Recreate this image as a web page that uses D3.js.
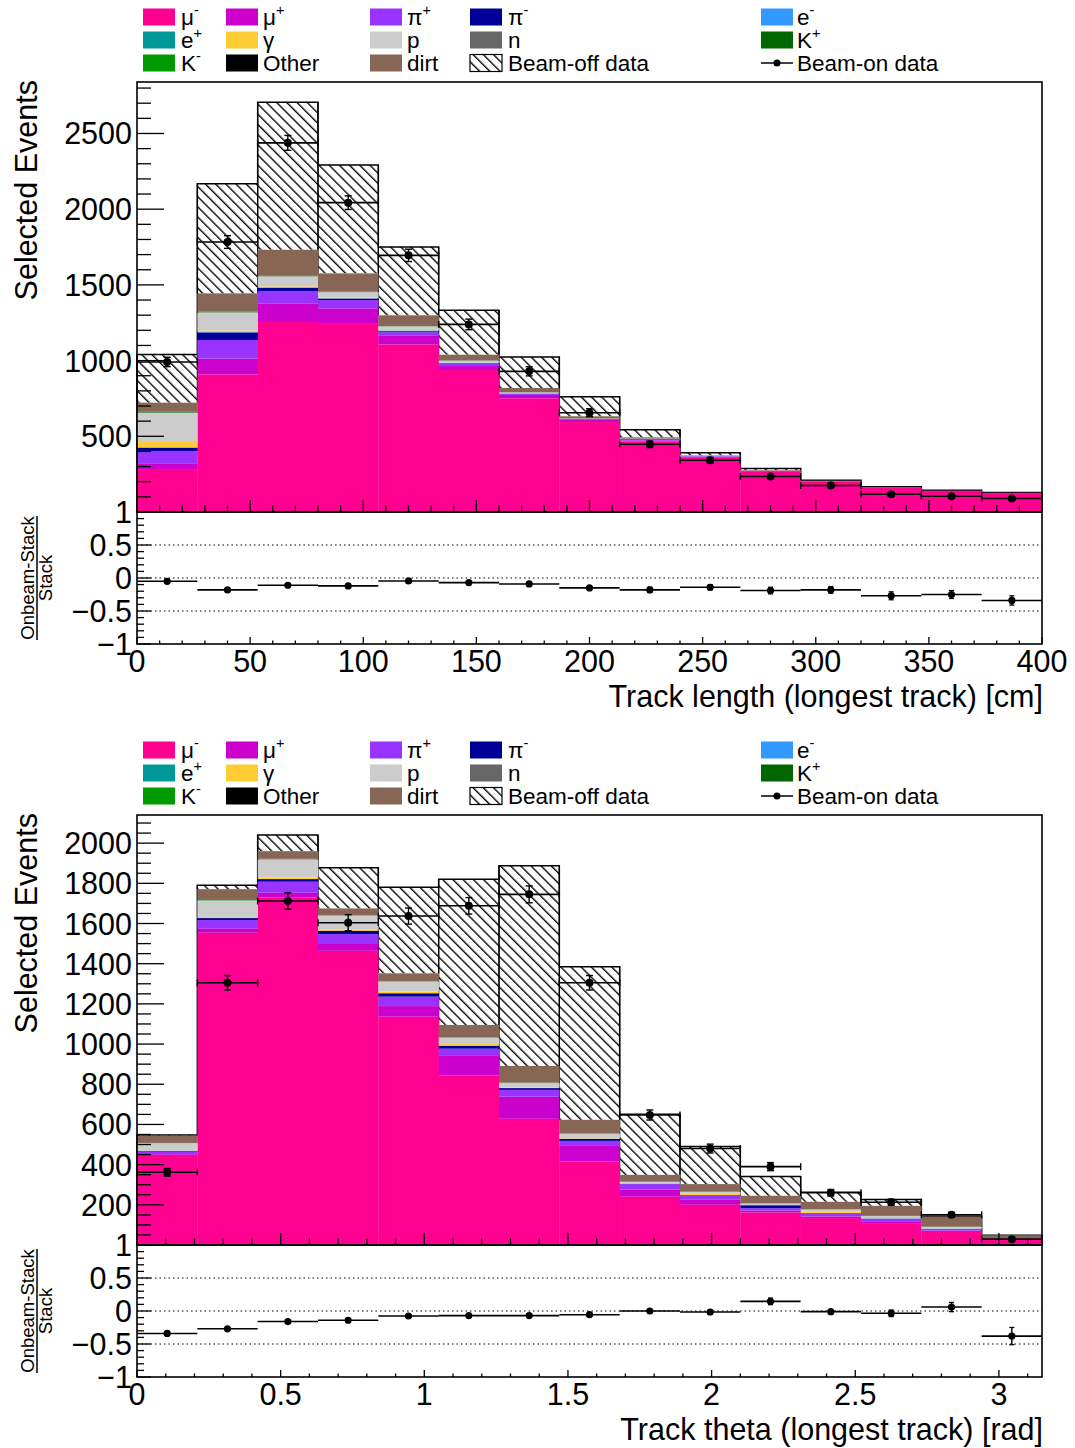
<!DOCTYPE html>
<html><head><meta charset="utf-8">
<script src="https://cdn.jsdelivr.net/npm/d3@7"></script>
<style>
body{margin:0;background:#fff}
svg{display:block}
text{font-family:"Liberation Sans",Arial,Helvetica,sans-serif;fill:#000}
</style>
</head><body>
<svg id="c" width="1075" height="1448"></svg>
<script>
// ---------- categories ----------
const componentNames = ["mu-","mu+","pi+","pi-","e-","e+","gamma","p","n","K+","K-","Other","dirt"];
const componentColors = ["#ff0090","#cc00cc","#9933ff","#000099","#3399ff","#009999","#ffcc33","#cccccc","#666666","#006600","#009900","#000000","#876655"];

// ---------- Track length (longest track) [cm] ----------
const lenEdgesMin = 0, lenEdgesMax = 400, lenBins = 15;
const len_muMinus = [278, 909, 1255, 1248, 1107, 938, 751, 594, 465, 362, 270, 203, 160, 140, 125];
const len_muPlus  = [44, 104, 123, 97, 60, 26, 22, 14, 8, 4, 2, 1, 1, 1, 1];
const len_piPlus  = [81, 123, 79, 55, 20, 14, 8, 5, 9, 3, 1, 1, 1, 0, 0];
const len_piMinus = [22, 50, 24, 10, 7, 4, 1, 1, 1, 0, 0, 0, 0, 0, 0];
const len_eMinus  = [2, 3, 3, 2, 5, 5, 2, 1, 1, 1, 0, 0, 0, 0, 0];
const len_ePlus   = [0, 0, 0, 0, 0, 0, 0, 0, 0, 0, 0, 0, 0, 0, 0];
const len_gamma   = [42, 10, 6, 4, 2, 1, 1, 0, 0, 0, 0, 0, 0, 0, 0];
const len_proton  = [185, 118, 66, 36, 25, 11, 6, 2, 1, 1, 1, 0, 0, 0, 0];
const len_neutron = [3, 2, 2, 1, 1, 1, 0, 0, 0, 0, 0, 0, 0, 0, 0];
const len_kPlus   = [1, 1, 1, 0, 0, 0, 0, 0, 0, 0, 0, 0, 0, 0, 0];
const len_kMinus  = [2, 2, 2, 1, 1, 1, 0, 0, 0, 0, 0, 0, 0, 0, 0];
const len_other   = [2, 1, 2, 1, 0, 1, 1, 0, 0, 0, 0, 0, 0, 0, 0];
const len_dirt    = [60, 121, 169, 121, 71, 37, 27, 15, 8, 3, 3, 2, 2, 1, 1];
const len_beamOff = [319, 724, 975, 715, 452, 293, 205, 130, 51, 18, 10, 3, 2, 2, 1];
const len_beamOn  = [991, 1783, 2438, 2043, 1695, 1239, 929, 656, 447, 342, 234, 175, 117, 104, 89];
const len_beamOnErr = [31, 42, 49, 45, 41, 35, 30, 26, 21, 18, 15, 13, 11, 10, 9];
const len_ratio   = [-0.05, -0.18, -0.11, -0.12, -0.045, -0.07, -0.09, -0.15, -0.18, -0.14, -0.19, -0.18, -0.27, -0.25, -0.34];
const len_ratioErr= [0.03, 0.02, 0.02, 0.02, 0.02, 0.03, 0.03, 0.03, 0.04, 0.04, 0.05, 0.05, 0.06, 0.06, 0.07];
const len_xTicks  = [0, 50, 100, 150, 200, 250, 300, 350, 400];
const len_yTicks  = [500, 1000, 1500, 2000, 2500];

// ---------- Track theta (longest track) [rad] ----------
const thEdgesMin = 0, thEdgesMax = 3.15, thBins = 15;
const th_muMinus = [448, 1554, 1730, 1464, 1136, 843, 628, 415, 240, 200, 162, 134, 109, 70, 33];
const th_muPlus  = [4, 22, 23, 34, 53, 98, 110, 78, 36, 25, 10, 8, 6, 2, 1];
const th_piPlus  = [13, 41, 55, 49, 47, 36, 34, 25, 27, 22, 11, 15, 15, 8, 0];
const th_piMinus = [3, 10, 13, 17, 17, 15, 9, 10, 2, 2, 15, 2, 2, 0, 0];
const th_eMinus  = [0, 0, 0, 0, 0, 0, 0, 0, 0, 0, 0, 0, 0, 2, 0];
const th_ePlus   = [0, 0, 0, 0, 0, 0, 0, 0, 0, 0, 0, 0, 0, 0, 0];
const th_gamma   = [0, 6, 8, 7, 8, 8, 2, 2, 3, 6, 1, 8, 0, 0, 0];
const th_proton  = [39, 82, 90, 69, 51, 32, 23, 24, 6, 9, 8, 10, 12, 8, 0];
const th_neutron = [0, 0, 0, 0, 0, 0, 0, 0, 0, 0, 0, 0, 0, 0, 0];
const th_kPlus   = [0, 0, 0, 0, 0, 0, 0, 0, 0, 0, 0, 0, 0, 0, 0];
const th_kMinus  = [1, 2, 3, 2, 2, 2, 2, 2, 2, 2, 1, 1, 1, 1, 0];
const th_other   = [0, 0, 0, 0, 0, 0, 0, 0, 0, 0, 0, 0, 0, 0, 0];
const th_dirt    = [36, 54, 38, 33, 38, 61, 83, 67, 33, 37, 37, 37, 50, 51, 15];
const th_beamOff = [4, 20, 81, 202, 428, 725, 996, 762, 302, 187, 96, 48, 31, 0, 0];
const th_beamOn  = [362, 1305, 1712, 1604, 1637, 1688, 1745, 1305, 647, 480, 390, 260, 213, 150, 29];
const th_beamOnErr = [19, 36, 41, 40, 40, 41, 42, 36, 25, 22, 20, 16, 15, 12, 6];
const th_ratio   = [-0.34, -0.27, -0.16, -0.14, -0.076, -0.07, -0.07, -0.056, 0.0, -0.015, 0.146, -0.01, -0.035, 0.06, -0.38];
const th_ratioErr= [0.03, 0.02, 0.02, 0.02, 0.02, 0.02, 0.02, 0.02, 0.02, 0.03, 0.05, 0.03, 0.05, 0.07, 0.13];
const th_xTicks  = [0, 0.5, 1, 1.5, 2, 2.5, 3];
const th_yTicks  = [200, 400, 600, 800, 1000, 1200, 1400, 1600, 1800, 2000];

const ratioTicks = [1, 0.5, 0, -0.5, -1];

// legend entries (row-major, 5 columns)
const legendEntries = [
  {b:"μ",s:"-",c:0},{b:"μ",s:"+",c:1},{b:"π",s:"+",c:2},{b:"π",s:"-",c:3},{b:"e",s:"-",c:4},
  {b:"e",s:"+",c:5},{b:"γ",s:"",c:6},{b:"p",s:"",c:7},{b:"n",s:"",c:8},{b:"K",s:"+",c:9},
  {b:"K",s:"-",c:10},{b:"Other",s:"",c:11},{b:"dirt",s:"",c:12},{b:"Beam-off data",s:"",c:"off"},{b:"Beam-on data",s:"",c:"on"}
];

const svg = d3.select("#c");
const defs = svg.append("defs");
const HS = 7.2;
const pat = defs.append("pattern").attr("id","hatch").attr("patternUnits","userSpaceOnUse")
  .attr("width",HS).attr("height",HS).attr("patternTransform","rotate(-45)");
pat.append("rect").attr("width",HS).attr("height",HS).attr("fill","#fff");
pat.append("line").attr("x1",0.7).attr("y1",-1).attr("x2",0.7).attr("y2",HS+1).attr("stroke","#000").attr("stroke-width",1.35);

const X0 = 137, X1 = 1042;
const FS = 30.5;

function drawLegend(yOff){
  const g = svg.append("g");
  const swX = [143, 226, 370, 470, 761], txX = [181, 263, 407, 508, 797];
  const rowY = [17, 40, 63];
  legendEntries.forEach((e,i)=>{
    const col = i%5, row = Math.floor(i/5);
    const cy = yOff + rowY[row];
    if (e.c === "off"){
      g.append("rect").attr("x",swX[col]).attr("y",cy-8.5).attr("width",32).attr("height",17)
        .attr("fill","url(#hatch)").attr("stroke","#000").attr("stroke-width",1.2);
    } else if (e.c === "on"){
      g.append("line").attr("x1",swX[col]).attr("x2",swX[col]+32).attr("y1",cy).attr("y2",cy).attr("stroke","#000").attr("stroke-width",1.5);
      g.append("circle").attr("cx",swX[col]+16).attr("cy",cy).attr("r",3.5).attr("fill","#000");
    } else {
      g.append("rect").attr("x",swX[col]).attr("y",cy-8.5).attr("width",32).attr("height",17)
        .attr("fill",componentColors[e.c]);
    }
    const t = g.append("text").attr("x",txX[col]).attr("y",cy+8).attr("font-size",22.5).text(e.b);
    if (e.s) t.append("tspan").attr("dy",-10).attr("font-size",14.5).text(e.s);
  });
}

function drawPanel(cfg){
  const top = cfg.top, mainBot = top + 430, ratBot = mainBot + 132;
  const x = d3.scaleLinear().domain([cfg.xmin, cfg.xmax]).range([X0, X1]);
  const y = d3.scaleLinear().domain([0, cfg.ymax]).range([mainBot, top]);
  const yr = d3.scaleLinear().domain([-1, 1]).range([ratBot, mainBot]);
  const bw = (cfg.xmax - cfg.xmin)/cfg.nbins;
  const lo = i => cfg.xmin + i*bw, hi = i => cfg.xmin + (i+1)*bw;
  const g = svg.append("g");

  drawLegend(top - 82);

  // cumulative stack
  const layers = cfg.layers;
  const n = cfg.nbins;
  const cum = [];
  let run = new Array(n).fill(0);
  layers.forEach(L => { const lower = run.slice(); run = run.map((v,i)=>v+L[i]); cum.push({lower, upper: run.slice()}); });
  const stackTop = run.slice();
  const total = stackTop.map((v,i)=>v+cfg.beamOff[i]);

  // beam-off hatched
  const bins = d3.range(n);
  g.selectAll(null).data(bins).join("rect")
    .attr("x", i=>x(lo(i))).attr("width", i=>x(hi(i))-x(lo(i)))
    .attr("y", i=>y(total[i])).attr("height", i=>Math.max(0, y(stackTop[i])-y(total[i])))
    .attr("fill","url(#hatch)");
  // outline of total (step)
  let p = d3.path();
  p.moveTo(x(lo(0)), y(0));
  bins.forEach(i=>{ p.lineTo(x(lo(i)), y(total[i])); p.lineTo(x(hi(i)), y(total[i])); });
  p.lineTo(x(hi(n-1)), y(0));
  g.append("path").attr("d", p.toString()).attr("fill","none").attr("stroke","#000").attr("stroke-width",1.5);
  // vertical bin edges in hatched region
  bins.forEach(i=>{
    g.append("line").attr("x1",x(lo(i))).attr("x2",x(lo(i))).attr("y1",y(total[i])).attr("y2",y(stackTop[i]))
      .attr("stroke","#000").attr("stroke-width",1.2);
    g.append("line").attr("x1",x(hi(i))).attr("x2",x(hi(i))).attr("y1",y(total[i])).attr("y2",y(stackTop[i]))
      .attr("stroke","#000").attr("stroke-width",1.2);
  });

  // colored layers
  cum.forEach((c,k)=>{
    g.selectAll(null).data(bins.filter(i=>c.upper[i]>c.lower[i])).join("rect")
      .attr("x", i=>x(lo(i))).attr("width", i=>x(hi(i))-x(lo(i))+0.3)
      .attr("y", i=>y(c.upper[i])).attr("height", i=>y(c.lower[i])-y(c.upper[i]))
      .attr("fill", componentColors[k]);
  });

  // frames
  g.append("rect").attr("x",X0).attr("y",top).attr("width",X1-X0).attr("height",mainBot-top)
    .attr("fill","none").attr("stroke","#000").attr("stroke-width",1.6);
  g.append("rect").attr("x",X0).attr("y",mainBot).attr("width",X1-X0).attr("height",ratBot-mainBot)
    .attr("fill","none").attr("stroke","#000").attr("stroke-width",1.6);

  // main y ticks
  for (let v=0; v<=cfg.ymax+1e-9; v+=cfg.yMinor){
    const major = Math.abs(v/cfg.yMajor - Math.round(v/cfg.yMajor))<1e-6;
    g.append("line").attr("x1",X0).attr("x2",X0+(major?27:14)).attr("y1",y(v)).attr("y2",y(v)).attr("stroke","#000").attr("stroke-width",1.3);
  }
  cfg.yTicks.forEach(v=>{
    g.append("text").attr("x",132).attr("y",y(v)+11).attr("text-anchor","end").attr("font-size",FS).text(v);
  });
  // main x ticks & ratio x ticks
  const nMinor = Math.round((cfg.xmax-cfg.xmin)/cfg.xMinor);
  for (let k=0;k<=nMinor;k++){
    const v = cfg.xmin + k*cfg.xMinor;
    if (v > cfg.xmax+1e-9) break;
    const major = Math.abs(v/cfg.xMajor - Math.round(v/cfg.xMajor))<1e-6;
    g.append("line").attr("x1",x(v)).attr("x2",x(v)).attr("y1",mainBot).attr("y2",mainBot-(major?12:6.5)).attr("stroke","#000").attr("stroke-width",1.3);
    g.append("line").attr("x1",x(v)).attr("x2",x(v)).attr("y1",ratBot).attr("y2",ratBot-(major?7:3.5)).attr("stroke","#000").attr("stroke-width",1.3);
  }
  cfg.xTicks.forEach(v=>{
    g.append("text").attr("x",x(v)).attr("y",ratBot+28).attr("text-anchor","middle").attr("font-size",FS).text(v);
  });
  // ratio y ticks
  for (let k=0;k<=20;k++){
    const v = -1 + k*0.1;
    const major = (k%5===0);
    g.append("line").attr("x1",X0).attr("x2",X0+(major?14:7)).attr("y1",yr(v)).attr("y2",yr(v)).attr("stroke","#000").attr("stroke-width",1.3);
  }
  ratioTicks.forEach(v=>{
    g.append("text").attr("x",132).attr("y",yr(v)+11).attr("text-anchor","end").attr("font-size",FS)
      .text(v<0 ? "\u2212"+Math.abs(v) : String(v));
  });
  // dotted lines
  [0.5,0,-0.5].forEach(v=>{
    g.append("line").attr("x1",X0).attr("x2",X1).attr("y1",yr(v)).attr("y2",yr(v))
      .attr("stroke","#000").attr("stroke-width",1.1).attr("stroke-dasharray","1.5,3");
  });

  // titles
  g.append("text").attr("transform",`translate(37,${top-2}) rotate(-90)`).attr("text-anchor","end").attr("font-size",FS).text("Selected Events");
  const rc = (mainBot+ratBot)/2;
  g.append("text").attr("transform",`translate(34,${rc}) rotate(-90)`).attr("text-anchor","middle").attr("font-size",18.5).text("Onbeam-Stack");
  g.append("line").attr("x1",37).attr("x2",37).attr("y1",rc-62).attr("y2",rc+62).attr("stroke","#000").attr("stroke-width",1.5);
  g.append("text").attr("transform",`translate(52,${rc}) rotate(-90)`).attr("text-anchor","middle").attr("font-size",18.5).text("Stack");
  g.append("text").attr("x",1043).attr("y",ratBot+63).attr("text-anchor","end").attr("font-size",FS).text(cfg.xTitle);

  // data points main
  const cap = 3.5;
  bins.forEach(i=>{
    const xc = x((lo(i)+hi(i))/2), yv = y(cfg.beamOn[i]);
    const ya = y(cfg.beamOn[i]+cfg.beamOnErr[i]), yb = y(cfg.beamOn[i]-cfg.beamOnErr[i]);
    g.append("line").attr("x1",x(lo(i))).attr("x2",x(hi(i))).attr("y1",yv).attr("y2",yv).attr("stroke","#000").attr("stroke-width",1.6);
    [x(lo(i)), x(hi(i))].forEach(xx=> g.append("line").attr("x1",xx).attr("x2",xx).attr("y1",yv-cap).attr("y2",yv+cap).attr("stroke","#000").attr("stroke-width",1.4));
    g.append("line").attr("x1",xc).attr("x2",xc).attr("y1",ya).attr("y2",yb).attr("stroke","#000").attr("stroke-width",1.4);
    [ya,yb].forEach(yy=> g.append("line").attr("x1",xc-cap).attr("x2",xc+cap).attr("y1",yy).attr("y2",yy).attr("stroke","#000").attr("stroke-width",1.4));
    g.append("circle").attr("cx",xc).attr("cy",yv).attr("r",4).attr("fill","#000");
  });
  // ratio points
  bins.forEach(i=>{
    const xc = x((lo(i)+hi(i))/2), yv = yr(cfg.ratio[i]);
    const ya = yr(cfg.ratio[i]+cfg.ratioErr[i]), yb = yr(cfg.ratio[i]-cfg.ratioErr[i]);
    g.append("line").attr("x1",x(lo(i))).attr("x2",x(hi(i))).attr("y1",yv).attr("y2",yv).attr("stroke","#000").attr("stroke-width",1.6);
    g.append("line").attr("x1",xc).attr("x2",xc).attr("y1",ya).attr("y2",yb).attr("stroke","#000").attr("stroke-width",1.4);
    [ya,yb].forEach(yy=> g.append("line").attr("x1",xc-2.5).attr("x2",xc+2.5).attr("y1",yy).attr("y2",yy).attr("stroke","#000").attr("stroke-width",1.3));
    g.append("circle").attr("cx",xc).attr("cy",yv).attr("r",3.6).attr("fill","#000");
  });
}

drawPanel({
  top: 82, xmin: lenEdgesMin, xmax: lenEdgesMax, nbins: lenBins, ymax: 2840,
  yMajor: 500, yMinor: 100, xMajor: 50, xMinor: 10,
  layers: [len_muMinus,len_muPlus,len_piPlus,len_piMinus,len_eMinus,len_ePlus,len_gamma,len_proton,len_neutron,len_kPlus,len_kMinus,len_other,len_dirt],
  beamOff: len_beamOff, beamOn: len_beamOn, beamOnErr: len_beamOnErr,
  ratio: len_ratio, ratioErr: len_ratioErr, xTicks: len_xTicks, yTicks: len_yTicks,
  xTitle: "Track length (longest track) [cm]"
});
drawPanel({
  top: 815, xmin: thEdgesMin, xmax: thEdgesMax, nbins: thBins, ymax: 2140,
  yMajor: 200, yMinor: 50, xMajor: 0.5, xMinor: 0.1,
  layers: [th_muMinus,th_muPlus,th_piPlus,th_piMinus,th_eMinus,th_ePlus,th_gamma,th_proton,th_neutron,th_kPlus,th_kMinus,th_other,th_dirt],
  beamOff: th_beamOff, beamOn: th_beamOn, beamOnErr: th_beamOnErr,
  ratio: th_ratio, ratioErr: th_ratioErr, xTicks: th_xTicks, yTicks: th_yTicks,
  xTitle: "Track theta (longest track) [rad]"
});
</script>
</body></html>
